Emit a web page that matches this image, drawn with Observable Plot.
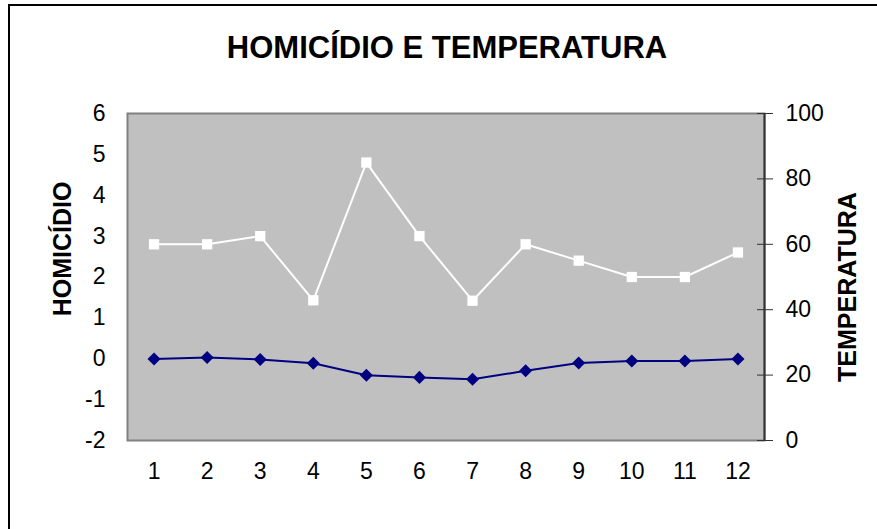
<!DOCTYPE html>
<html><head><meta charset="utf-8">
<script src="https://cdn.jsdelivr.net/npm/d3@7"></script>
<script src="https://cdn.jsdelivr.net/npm/@observablehq/plot@0.6"></script>
<style>
body{margin:0;background:#fff;}
#wrap{position:relative;width:877px;height:529px;overflow:hidden;font-family:"Liberation Sans",Arial,sans-serif;color:#000;}
#chart{position:absolute;left:0;top:0;}
#border{position:absolute;left:8px;top:4px;right:-10px;bottom:-10px;border-top:2px solid #000;border-left:2px solid #000;}
#title{position:absolute;left:0;width:894px;top:32px;line-height:1;text-align:center;font-weight:bold;font-size:31px;white-space:nowrap;}
.ylab{position:absolute;font-weight:bold;font-size:25px;line-height:1;white-space:nowrap;transform:translate(-50%,-50%) rotate(-90deg);}
</style></head>
<body>
<div id="wrap">
  <div id="chart"></div>
  <div id="border"></div>
  <div id="title">HOMICÍDIO E TEMPERATURA</div>
  <div class="ylab" style="left:62px;top:249px;">HOMICÍDIO</div>
  <div class="ylab" style="left:847px;top:287px;">TEMPERATURA</div>
</div>
<script>
const meses = [1,2,3,4,5,6,7,8,9,10,11,12];
// série branca (eixo esquerdo)
const serieBranca = [2.8,2.8,3.0,1.43,4.8,3.0,1.42,2.8,2.4,2.0,2.0,2.6];
// série azul (eixo direito)
const serieAzul = [24.9,25.4,24.8,23.6,19.95,19.3,18.7,21.3,23.7,24.3,24.3,24.9];
const ticksEsq = [-2,-1,0,1,2,3,4,5,6];
const ticksDir = [0,20,40,60,80,100];

const toLeft = t => -2 + t * 8 / 100;
const fromLeft = v => Math.round((v + 2) * 100 / 8);

const branca = meses.map((m,i)=>({mes:m, v:serieBranca[i]}));
const azul = meses.map((m,i)=>({mes:m, v:toLeft(serieAzul[i])}));

const chart = Plot.plot({
  width:877, height:529,
  marginLeft:127, marginRight:113, marginTop:113, marginBottom:89,
  style:{fontFamily:"'Liberation Sans', Arial, sans-serif", fontSize:"23px", background:"transparent", color:"#000"},
  x:{domain:[0.5,12.5]},
  y:{domain:[-2,6]},
  marks:[
    Plot.frame({fill:"#c0c0c0", stroke:"#808080", strokeWidth:2}),
    Plot.axisX({ticks:meses, tickSize:0, tickPadding:22, fontSize:23, tickFormat:d=>String(d), label:null}),
    Plot.axisY({ticks:ticksEsq, tickSize:0, tickPadding:22, fontSize:23, tickFormat:d=>d<0?"-"+Math.abs(d):String(d), label:null}),
    Plot.ruleX([12.5], {stroke:"#333", strokeWidth:2}),
    Plot.axisY({anchor:"right", ticks:ticksDir.map(toLeft), tickSize:16, dx:-8, tickPadding:13, fontSize:23, stroke:"#333", tickFormat:d=>String(fromLeft(d)), label:null}),
    Plot.line(branca, {x:"mes", y:"v", stroke:"white", strokeWidth:2}),
    Plot.dot(branca, {x:"mes", y:"v", symbol:"square", r:5.8, fill:"white"}),
    Plot.line(azul, {x:"mes", y:"v", stroke:"#000080", strokeWidth:2}),
    Plot.dot(azul, {x:"mes", y:"v", symbol:"square", rotate:45, r:5.2, fill:"#000080"})
  ]
});
document.getElementById("chart").appendChild(chart);
</script>
</body></html>
